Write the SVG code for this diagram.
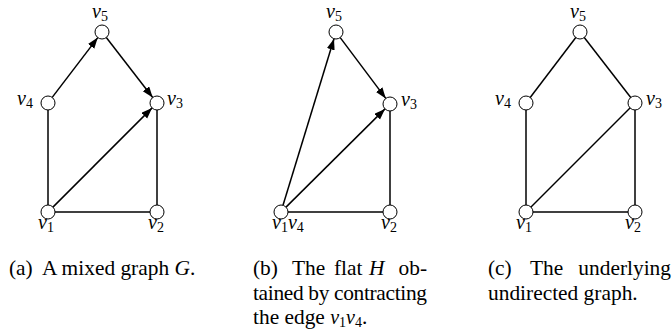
<svg xmlns="http://www.w3.org/2000/svg" width="672" height="335" viewBox="0 0 672 335">
<style>
.e{stroke:#000;stroke-width:1.5;fill:none}
.a{stroke:#000;stroke-width:1.5;fill:none;marker-end:url(#ah)}
.n{fill:#fff;stroke:#000;stroke-width:1}
.m{font-family:'Liberation Serif','Times New Roman',serif;font-style:italic;font-size:20px;fill:#000}
.s{font-style:normal;font-size:14px}
.c{font-family:'Liberation Serif','Times New Roman',serif;font-size:21.4px;fill:#000}
.i{font-style:italic}
</style>
<defs>
<marker id="ah" markerUnits="userSpaceOnUse" markerWidth="12" markerHeight="9" refX="11" refY="4" orient="auto">
<path d="M0,0 L11,4 L0,8 z" fill="#000"/>
</marker>
</defs>
<g id="connectors">
<line class="a" x1="52.2" y1="97.4" x2="97.8" y2="37.6"/>
<line class="a" x1="106.3" y1="37.5" x2="152.7" y2="97.5"/>
<line class="a" x1="52.9" y1="207.1" x2="152.1" y2="107.9"/>
<line class="e" x1="48" y1="110" x2="48" y2="205"/>
<line class="e" x1="55" y1="212" x2="150" y2="212"/>
<line class="e" x1="157" y1="205" x2="157" y2="110"/>
<line class="a" x1="283" y1="205.3" x2="334" y2="38.7"/>
<line class="a" x1="340.2" y1="37.6" x2="385.8" y2="98.4"/>
<line class="a" x1="286" y1="207.1" x2="385" y2="108.9"/>
<line class="e" x1="288" y1="212" x2="383" y2="212"/>
<line class="e" x1="390" y1="205" x2="390" y2="111"/>
<line class="e" x1="526" y1="103" x2="580" y2="32"/>
<line class="e" x1="580" y1="32" x2="635" y2="103"/>
<line class="e" x1="526" y1="212" x2="635" y2="103"/>
<line class="e" x1="526" y1="103" x2="526" y2="212"/>
<line class="e" x1="526" y1="212" x2="635" y2="212"/>
<line class="e" x1="635" y1="212" x2="635" y2="103"/>
</g>
<g id="a-v5"><circle class="n" cx="102" cy="32" r="7"/><text class="m" x="92" y="18">v<tspan class="s" dy="3">5</tspan></text></g>
<g id="a-v4"><circle class="n" cx="48" cy="103" r="7"/><text class="m" x="17" y="105">v<tspan class="s" dy="3">4</tspan></text></g>
<g id="a-v3"><circle class="n" cx="157" cy="103" r="7"/><text class="m" x="167" y="105">v<tspan class="s" dy="3">3</tspan></text></g>
<g id="a-v1"><circle class="n" cx="48" cy="212" r="7"/><text class="m" x="38" y="229">v<tspan class="s" dy="3">1</tspan></text></g>
<g id="a-v2"><circle class="n" cx="157" cy="212" r="7"/><text class="m" x="148" y="229">v<tspan class="s" dy="3">2</tspan></text></g>

<g id="b-v5"><circle class="n" cx="336" cy="32" r="7"/><text class="m" x="326" y="18">v<tspan class="s" dy="3">5</tspan></text></g>
<g id="b-v3"><circle class="n" cx="390" cy="104" r="7"/><text class="m" x="401" y="106">v<tspan class="s" dy="3">3</tspan></text></g>
<g id="b-v1v4"><circle class="n" cx="281" cy="212" r="7"/><text class="m" x="272" y="229">v<tspan class="s" dy="3">1</tspan><tspan dy="-3">v</tspan><tspan class="s" dy="3">4</tspan></text></g>
<g id="b-v2"><circle class="n" cx="390" cy="212" r="7"/><text class="m" x="381" y="229">v<tspan class="s" dy="3">2</tspan></text></g>

<g id="c-v5"><circle class="n" cx="580" cy="32" r="7"/><text class="m" x="570" y="18">v<tspan class="s" dy="3">5</tspan></text></g>
<g id="c-v4"><circle class="n" cx="526" cy="103" r="7"/><text class="m" x="495" y="105">v<tspan class="s" dy="3">4</tspan></text></g>
<g id="c-v3"><circle class="n" cx="635" cy="103" r="7"/><text class="m" x="646" y="105">v<tspan class="s" dy="3">3</tspan></text></g>
<g id="c-v1"><circle class="n" cx="526" cy="212" r="7"/><text class="m" x="516" y="229">v<tspan class="s" dy="3">1</tspan></text></g>
<g id="c-v2"><circle class="n" cx="635" cy="212" r="7"/><text class="m" x="625" y="229">v<tspan class="s" dy="3">2</tspan></text></g>

<g id="captions">
<text class="c" x="9" y="275">(a)</text>
<text class="c" x="42" y="275">A mixed graph <tspan class="i">G</tspan>.</text>
<text class="c" x="253" y="275">(b)</text>
<text class="c" x="292" y="275">The</text>
<text class="c" x="334" y="275">flat</text>
<text class="c i" x="369" y="275">H</text>
<text class="c" x="427" y="275" text-anchor="end">ob-</text>
<text class="c" x="253" y="299.5" textLength="174" lengthAdjust="spacing">tained by contracting</text>
<text class="c" x="253" y="324">the edge <tspan class="i" font-size="20">v</tspan><tspan font-size="14" dy="3">1</tspan><tspan class="i" font-size="20" dy="-3">v</tspan><tspan font-size="14" dy="3">4</tspan><tspan dy="-3">.</tspan></text>
<text class="c" x="488" y="275">(c)</text>
<text class="c" x="530" y="275">The</text>
<text class="c" x="671" y="275" text-anchor="end">underlying</text>
<text class="c" x="488" y="299.5">undirected graph.</text>
</g>
</svg>
